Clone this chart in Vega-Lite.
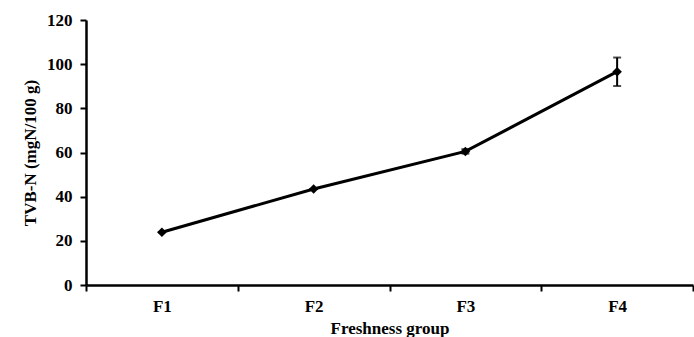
{
  "$schema": "https://vega.github.io/schema/vega-lite/v6.json",
  "width": 607,
  "height": 265,
  "autosize": {"type": "none"},
  "padding": {"left": 86, "top": 20, "right": 1, "bottom": 52},
  "background": "white",
  "config": {
    "view": {"stroke": null},
    "font": "Liberation Serif",
    "axis": {
      "domainColor": "black",
      "domainWidth": 2.5,
      "tickColor": "black",
      "tickWidth": 2,
      "tickSize": 6,
      "labelColor": "black",
      "labelFont": "Liberation Serif",
      "labelFontWeight": "bold",
      "labelFontSize": 17,
      "titleColor": "black",
      "titleFont": "Liberation Serif",
      "titleFontWeight": "bold",
      "titleFontSize": 17,
      "grid": false
    }
  },
  "data": {
    "values": [
      {"group": "F1", "tvbn": 23.9, "lo": 23.9, "hi": 23.9},
      {"group": "F2", "tvbn": 43.5, "lo": 43.5, "hi": 43.5},
      {"group": "F3", "tvbn": 60.5, "lo": 59.5, "hi": 61.5},
      {"group": "F4", "tvbn": 96.6, "lo": 90.1, "hi": 103.0}
    ]
  },
  "encoding": {
    "x": {
      "field": "group",
      "type": "nominal",
      "scale": {"type": "band", "paddingInner": 0, "paddingOuter": 0},
      "axis": {
        "title": "Freshness group",
        "labelAngle": 0,
        "tickBand": "extent",
        "labelPadding": 7,
        "titlePadding": 6
      }
    }
  },
  "layer": [
    {
      "mark": {"type": "rule", "color": "black", "strokeWidth": 2},
      "encoding": {
        "y": {"field": "lo", "type": "quantitative"},
        "y2": {"field": "hi"}
      }
    },
    {
      "mark": {"type": "tick", "color": "black", "size": 8, "thickness": 2},
      "encoding": {"y": {"field": "lo", "type": "quantitative"}}
    },
    {
      "mark": {"type": "tick", "color": "black", "size": 8, "thickness": 2},
      "encoding": {"y": {"field": "hi", "type": "quantitative"}}
    },
    {
      "mark": {"type": "line", "color": "black", "strokeWidth": 3, "point": {"shape": "diamond", "size": 90, "filled": true, "color": "black"}},
      "encoding": {
        "y": {
          "field": "tvbn",
          "type": "quantitative",
          "scale": {"domain": [0, 120], "nice": false},
          "axis": {
            "title": "TVB-N (mgN/100 g)",
            "values": [0, 20, 40, 60, 80, 100, 120],
            "labelPadding": 8,
            "titlePadding": 7
          }
        }
      }
    }
  ]
}
